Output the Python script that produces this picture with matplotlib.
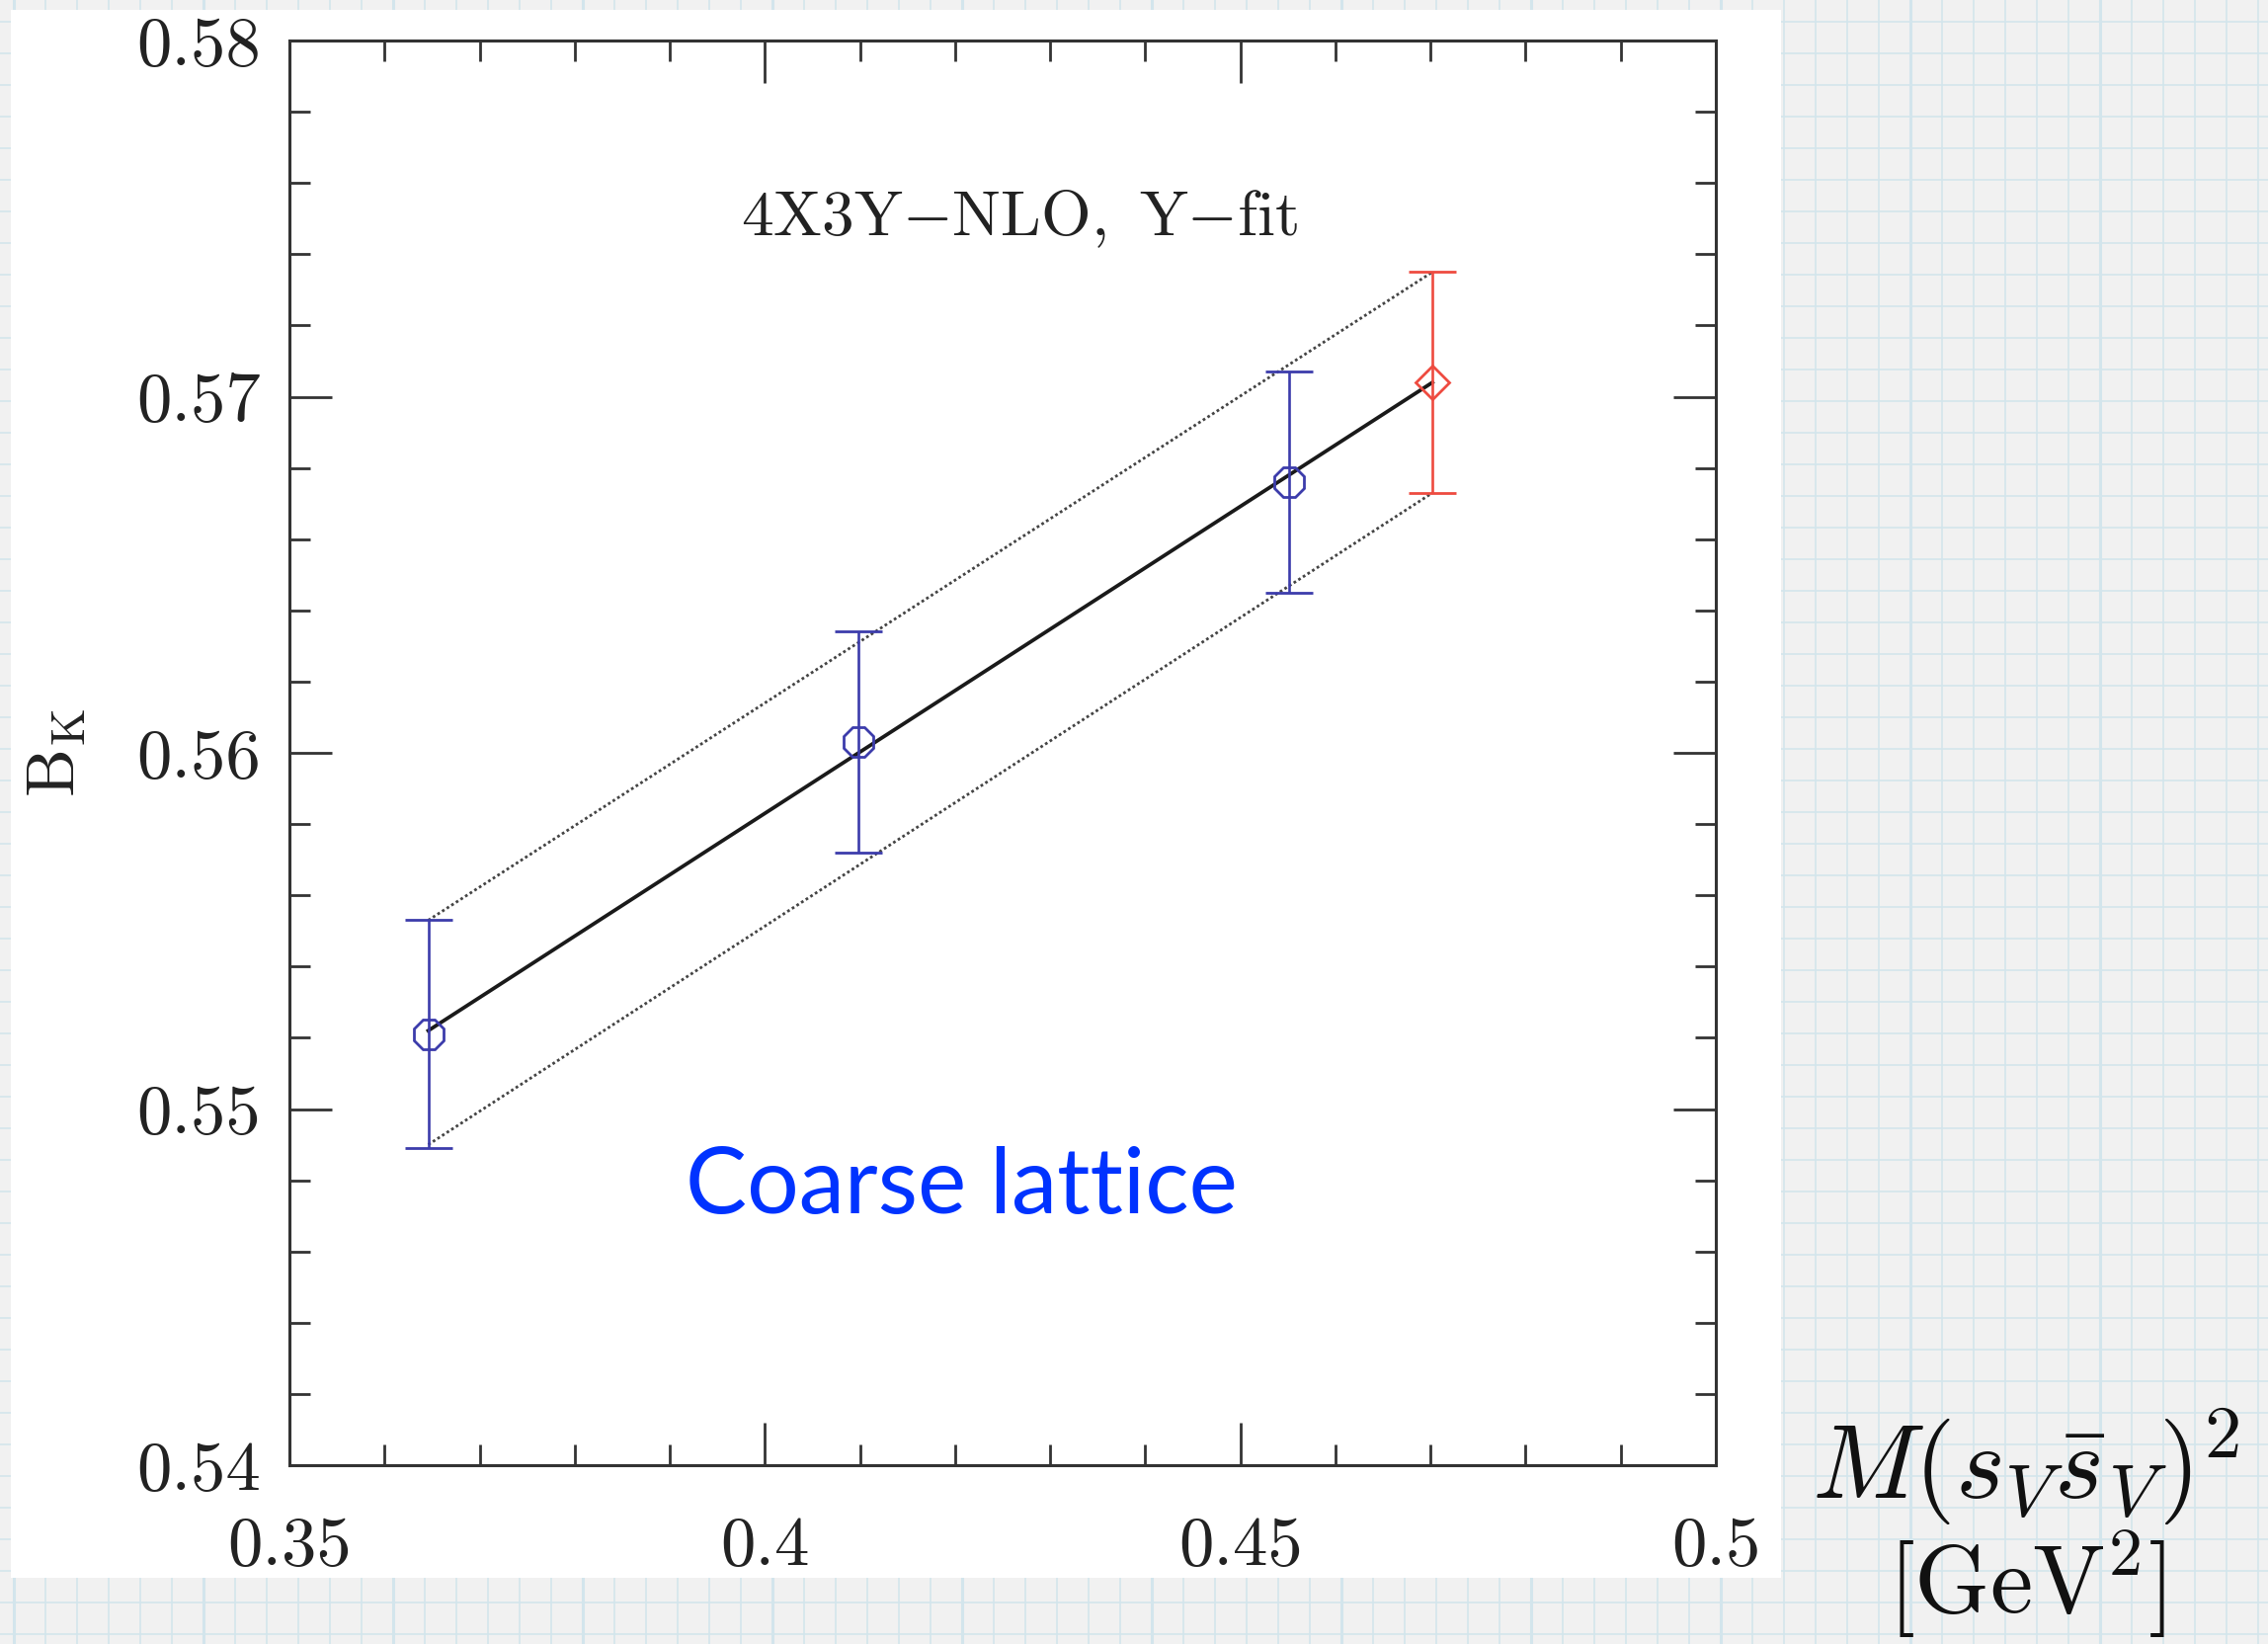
import matplotlib
matplotlib.use("Agg")
import matplotlib.pyplot as plt
from matplotlib.patches import Rectangle
from matplotlib.ticker import FixedLocator, MultipleLocator

plt.rcParams['mathtext.fontset'] = 'cm'

# ---------------- data ----------------
blue_x = [0.3646, 0.4098, 0.4551]
blue_y = [0.5521, 0.5603, 0.5676]
blue_err = [0.0032, 0.0031, 0.0031]

red_x = [0.4702]
red_y = [0.5704]
red_err = [0.0031]

fit_x = [0.3646, 0.4702]
fit_y = [0.5522, 0.5704]
fit_upper = [0.5553, 0.5735]
fit_lower = [0.5490, 0.5673]

xticks = [0.35, 0.40, 0.45, 0.50]
xtick_labels = ["0.35", "0.4", "0.45", "0.5"]
yticks = [0.54, 0.55, 0.56, 0.57, 0.58]
ytick_labels = ["0.54", "0.55", "0.56", "0.57", "0.58"]

title_text = r'$\mathrm{4X3Y{-}NLO,\ Y{-}fit}$'
note_text = "Coarse lattice"
ylabel_text = r'$\mathrm{B}_{\mathrm{K}}$'
xlabel_line1 = r'$M(s_V\bar{s}_V)^2$'
xlabel_line2 = r'$[\mathrm{GeV}^2]$'

W, H = 2296, 1664
fig = plt.figure(figsize=(W / 100, H / 100), dpi=100)

# ---------------- slide background (graph paper) ----------------
bg = fig.add_axes([0, 0, 1, 1], zorder=0)
bg.set_xlim(0, W)
bg.set_ylim(H, 0)
bg.axis('off')
bg.add_patch(Rectangle((0, 0), W, H, facecolor='#f1f1f1', edgecolor='none'))
grid_col = '#d3e5ec'
for k in range(0, 80):
    xv = 14 + 32 * k
    if xv > W:
        break
    thick = ((1934 - xv) % 192 == 0)
    bg.axvline(xv, color=grid_col, lw=2.2 if thick else 1.2, zorder=1)
for k in range(0, 60):
    yv = 22 + 32 * k
    if yv > H:
        break
    thick = ((yv - 152) % 192 == 0)
    bg.axhline(yv, color=grid_col, lw=2.2 if thick else 1.2, zorder=1)
bg.add_patch(Rectangle((11, 10), 1803 - 11, 1597 - 10, facecolor='white',
                       edgecolor='none', zorder=2))

# ---------------- main axes ----------------
left, right, top, bottom = 293, 1737, 41, 1483
ax = fig.add_axes([left / W, 1 - bottom / H, (right - left) / W, (bottom - top) / H],
                  zorder=2)
ax.set_facecolor('white')
ax.set_xlim(0.35, 0.50)
ax.set_ylim(0.54, 0.58)

spine_col = '#333333'
for s in ax.spines.values():
    s.set_color(spine_col)
    s.set_linewidth(2.2)

ax.xaxis.set_major_locator(FixedLocator(xticks))
ax.yaxis.set_major_locator(FixedLocator(yticks))
ax.xaxis.set_minor_locator(MultipleLocator(0.01))
ax.yaxis.set_minor_locator(MultipleLocator(0.002))
ax.set_xticklabels(xtick_labels, fontfamily='cmr10', fontsize=51, color='#222222')
ax.set_yticklabels(ytick_labels, fontfamily='cmr10', fontsize=51, color='#222222')
ax.tick_params(which='both', direction='in', top=True, right=True,
               color=spine_col, width=2.0)
ax.tick_params(which='major', length=31)
ax.tick_params(which='minor', length=15)
ax.tick_params(axis='x', which='major', pad=37)
ax.tick_params(axis='y', which='major', pad=21)

# fit band and central line
ax.plot(fit_x, fit_upper, color='#444444', lw=2.0, ls=(0, (1, 1)), zorder=3)
ax.plot(fit_x, fit_lower, color='#444444', lw=2.0, ls=(0, (1, 1)), zorder=3)
ax.plot(fit_x, fit_y, color='#1a1a1a', lw=2.7, zorder=3)

blue = '#3c3cab'
red = '#ee4b40'
ax.errorbar(blue_x, blue_y, yerr=blue_err, fmt='8', mfc='none', mec=blue, ms=24,
            mew=2.0, ecolor=blue, elinewidth=1.9, capsize=17, capthick=1.9, zorder=4)
ax.errorbar(red_x, red_y, yerr=red_err, fmt='D', mfc='none', mec=red, ms=17,
            mew=2.0, ecolor=red, elinewidth=1.9, capsize=17, capthick=1.9, zorder=4)

ax.text(0.4268, 0.5750, title_text, fontsize=47, color='#222222',
        ha='center', va='center', zorder=5)
ax.text(0.4207, 0.5478, note_text, fontsize=67, color='#0033ff', family='Lato',
        ha='center', va='center', zorder=5)

# axis labels (outside axes, on the slide)
fig.text(56 / W, 1 - 762 / H, ylabel_text, fontsize=50, rotation=90,
         ha='center', va='center', color='#222222', zorder=5)
fig.text(2050 / W, 1 - 1484 / H, xlabel_line1, fontsize=77,
         ha='center', va='center', color='#111111', zorder=5)
fig.text(2052 / W, 1 - 1604 / H, xlabel_line2, fontsize=70,
         ha='center', va='center', color='#111111', zorder=5)

fig.savefig('out.png', dpi=100)
